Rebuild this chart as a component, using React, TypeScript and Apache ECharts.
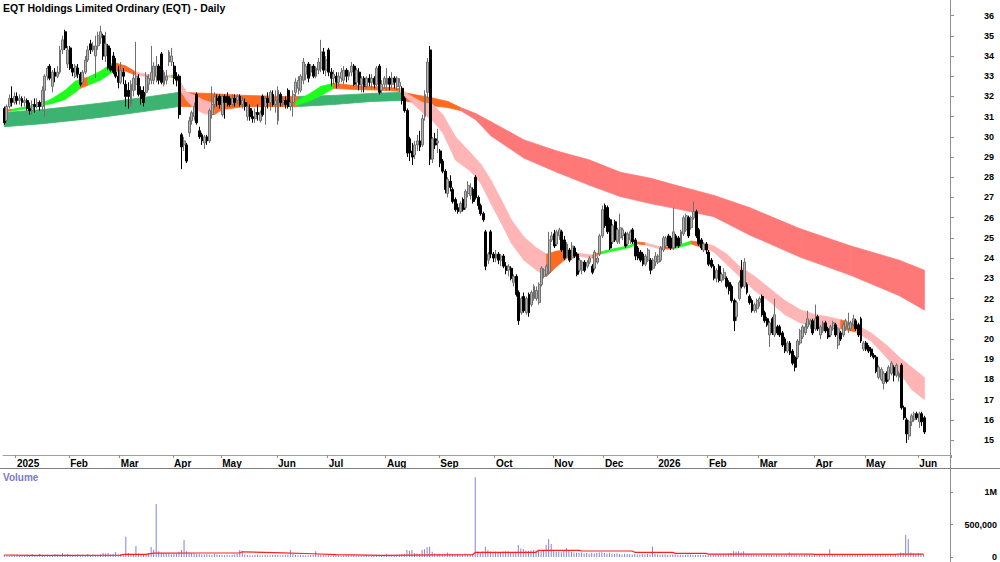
import React, { useEffect, useRef } from "react";
import * as echarts from "echarts";

const TITLE = "EQT Holdings Limited Ordinary (EQT) - Daily";
const FONT = '"Liberation Sans", Arial, Helvetica, sans-serif';

// ---------- calendar (ASX trading days) ----------
const FIRST_DAY = "2024-12-23";
const LAST_DAY = "2026-06-03";
const HOLIDAYS = [
  "2024-12-25", "2024-12-26", "2025-01-01", "2025-01-27", "2025-04-18", "2025-04-21",
  "2025-04-25", "2025-06-09", "2025-12-25", "2025-12-26", "2026-01-01", "2026-01-26",
  "2026-04-03", "2026-04-06",
];
const EMPTY_SLOTS = 10;
const MONTHS = ["Jan", "Feb", "Mar", "Apr", "May", "Jun", "Jul", "Aug", "Sep", "Oct", "Nov", "Dec"];

// ---------- tick labels ----------
const PRICE_TICKS = [15, 16, 17, 18, 19, 20, 21, 22, 23, 24, 25, 26, 27, 28, 29, 30, 31, 32, 33, 34, 35, 36];
const VOLUME_TICKS = [0, 500, 1000]; // thousands

// ---------- daily prices [open, close, low, high] ----------
const dec2024 = [
  [31.4, 30.7, 30.6, 31.5], [30.8, 31.5, 30.7, 31.6], [31.5, 31.9, 31.4, 32.1], [31.9, 31.7, 31.5, 32.5], [31.7, 32.0, 31.6, 32.2],
];
const jan2025 = [
  [32.0, 31.8, 31.6, 32.2], [31.8, 31.9, 31.6, 32.1], [31.9, 31.7, 31.5, 32.0], [31.7, 31.8, 31.5, 32.0], [31.8, 31.4, 31.3, 31.9],
  [31.4, 31.3, 31.1, 31.7], [31.3, 31.6, 31.1, 31.8], [31.6, 31.5, 31.2, 31.9], [31.5, 31.7, 31.4, 31.9], [31.7, 31.5, 31.3, 31.8],
  [31.5, 32.3, 31.3, 32.5], [32.3, 33.0, 31.0, 33.1], [33.0, 33.4, 32.8, 33.5], [33.5, 32.9, 32.8, 33.6], [32.5, 33.2, 32.2, 33.3],
  [33.2, 33.0, 32.7, 33.4], [33.0, 33.2, 32.9, 33.5], [33.2, 34.3, 33.1, 34.5], [34.3, 34.8, 34.1, 35.0], [35.2, 34.4, 34.3, 35.3],
  [33.6, 34.3, 33.4, 34.5],
];
const feb2025 = [
  [34.4, 33.4, 33.3, 34.5], [33.4, 33.2, 33.0, 33.6], [33.0, 33.5, 32.9, 33.6], [33.4, 33.1, 32.9, 33.6], [33.1, 32.6, 32.5, 33.2],
  [32.7, 33.2, 32.6, 33.3], [33.2, 33.8, 33.1, 34.0], [33.8, 34.3, 33.7, 34.5], [34.6, 34.3, 34.1, 34.8], [34.3, 34.5, 34.2, 34.7],
  [34.0, 34.5, 32.9, 35.0], [34.5, 35.0, 34.3, 35.2], [34.9, 35.2, 34.6, 35.5], [35.0, 34.0, 33.8, 35.1], [34.0, 34.6, 33.7, 35.2],
  [34.5, 33.4, 33.3, 34.6], [33.5, 33.3, 33.2, 34.4], [34.0, 33.2, 33.1, 34.2], [33.2, 33.0, 32.9, 33.9], [33.0, 32.7, 32.4, 33.5],
];
const mar2025 = [
  [32.7, 33.3, 32.6, 33.7], [33.2, 33.0, 32.6, 33.4], [32.6, 32.0, 31.5, 32.8], [32.3, 32.0, 31.4, 32.7], [31.6, 32.6, 31.5, 32.8],
  [32.3, 32.9, 32.0, 33.2], [32.6, 33.0, 32.3, 34.7], [32.9, 32.1, 32.0, 33.1], [32.3, 31.9, 31.6, 32.5], [32.2, 31.7, 31.5, 32.5],
  [32.2, 33.0, 32.0, 33.2], [32.6, 32.9, 32.3, 33.1], [32.8, 33.2, 32.6, 34.5], [32.8, 33.5, 32.6, 33.7], [33.0, 33.5, 32.7, 34.0],
  [33.5, 32.8, 32.6, 33.6], [34.1, 32.7, 32.6, 34.2], [32.6, 33.2, 32.5, 33.3], [32.8, 33.0, 32.6, 33.3], [33.7, 34.2, 33.5, 34.3],
  [33.7, 34.0, 33.5, 34.4],
];
const apr2025 = [
  [33.5, 32.9, 32.6, 33.7], [33.0, 32.8, 32.5, 33.2], [33.0, 31.1, 30.9, 33.1], [30.1, 29.5, 28.4, 30.2], [29.6, 29.8, 29.3, 30.0],
  [29.6, 28.8, 28.7, 29.7], [30.2, 30.8, 30.0, 31.0], [30.8, 31.2, 30.6, 31.3], [31.0, 31.5, 30.8, 31.7], [32.1, 30.7, 30.6, 32.2],
  [30.3, 30.0, 29.9, 30.5], [30.1, 29.8, 29.6, 30.2], [29.7, 30.0, 29.4, 30.1], [30.0, 29.8, 29.6, 30.1], [29.8, 31.3, 29.7, 31.4],
  [31.1, 31.6, 30.9, 32.5], [31.6, 32.0, 31.4, 32.2], [31.9, 31.8, 31.5, 32.1], [32.0, 31.6, 31.4, 32.1],
];
const may2025 = [
  [31.1, 32.0, 31.0, 32.1], [32.0, 31.7, 30.9, 32.1], [32.0, 31.7, 31.5, 32.2], [31.9, 31.6, 31.5, 32.0], [31.6, 31.9, 31.5, 32.1],
  [31.9, 31.7, 31.5, 32.1], [31.8, 32.0, 31.6, 32.1], [32.0, 31.6, 31.5, 32.1], [31.6, 31.8, 31.4, 32.0], [31.7, 31.5, 31.3, 31.9],
  [31.0, 31.5, 30.8, 31.7], [31.4, 31.0, 30.8, 31.6], [31.0, 30.9, 30.7, 31.3], [30.9, 31.2, 30.7, 31.4], [31.2, 31.1, 30.8, 31.6],
  [30.8, 31.2, 30.7, 31.3], [32.0, 31.1, 31.0, 32.1], [31.5, 31.9, 30.6, 32.0], [31.9, 31.7, 31.4, 32.2], [31.7, 32.2, 31.3, 32.3],
  [32.1, 31.6, 31.5, 32.3], [31.6, 31.8, 31.2, 32.3],
];
const jun2025 = [
  [30.8, 32.3, 30.6, 32.5], [32.1, 31.7, 31.5, 32.2], [31.7, 31.8, 31.5, 32.0], [31.8, 31.6, 31.4, 32.0], [32.3, 31.5, 31.4, 32.4],
  [31.5, 31.7, 31.3, 31.8], [31.7, 32.1, 31.0, 32.3], [32.2, 32.7, 32.0, 32.9], [32.4, 32.8, 32.1, 33.0], [32.3, 33.0, 32.2, 33.1],
  [32.8, 33.7, 32.6, 33.9], [33.1, 33.5, 32.8, 33.6], [33.6, 32.9, 32.7, 33.7], [33.2, 33.5, 33.0, 33.6], [33.5, 33.0, 32.9, 33.6],
  [33.0, 33.4, 32.9, 33.5], [33.3, 33.7, 33.1, 33.9], [33.4, 34.2, 33.2, 34.8], [34.2, 33.3, 33.1, 34.4], [33.3, 33.8, 33.0, 34.0],
];
const jul2025 = [
  [34.3, 33.2, 33.0, 34.4], [33.2, 32.9, 32.5, 33.4], [32.9, 33.1, 32.6, 33.3], [33.0, 32.7, 32.4, 33.2], [32.7, 33.0, 32.5, 33.2],
  [32.9, 33.2, 32.7, 33.4], [32.8, 33.3, 32.6, 33.5], [33.3, 33.0, 32.7, 33.4], [33.0, 33.2, 32.8, 33.3], [33.2, 33.5, 33.0, 33.7],
  [33.5, 32.6, 32.5, 33.6], [32.7, 33.3, 32.5, 33.4], [33.2, 32.6, 32.3, 33.4], [32.6, 32.9, 32.2, 33.0], [32.9, 32.5, 32.2, 33.0],
  [32.5, 32.9, 32.4, 33.0], [32.9, 32.7, 32.5, 33.1], [32.7, 32.9, 32.4, 33.1], [32.9, 32.6, 32.4, 33.0], [32.6, 33.4, 32.5, 33.5],
  [33.5, 32.2, 32.1, 33.6], [32.3, 32.6, 32.1, 32.8], [32.6, 32.9, 32.4, 33.0],
];
const aug2025 = [
  [32.6, 32.9, 32.3, 33.4], [32.9, 32.6, 32.3, 33.0], [32.6, 32.9, 32.4, 33.2], [32.9, 32.7, 32.4, 33.0], [32.5, 32.9, 32.3, 33.0],
  [32.5, 32.7, 32.2, 32.9], [32.4, 31.8, 31.6, 32.5], [31.9, 31.3, 31.2, 32.0], [31.3, 29.2, 29.0, 31.4], [29.9, 29.2, 28.8, 30.0],
  [29.3, 29.0, 28.6, 29.7], [29.1, 29.6, 28.9, 29.8], [29.6, 29.8, 29.3, 30.1], [29.8, 29.5, 29.3, 30.3], [29.6, 30.9, 29.5, 31.1],
  [31.0, 32.1, 30.8, 32.3], [32.2, 33.7, 31.9, 33.9], [34.3, 28.9, 28.6, 34.5], [28.9, 29.9, 28.7, 30.0], [29.9, 29.6, 29.4, 30.2],
  [29.7, 29.8, 29.2, 30.4],
];
const sep2025 = [
  [29.3, 28.7, 28.5, 29.4], [28.8, 28.3, 28.2, 28.9], [28.3, 27.4, 27.2, 28.4], [27.2, 27.9, 27.0, 28.0], [27.8, 27.5, 27.3, 28.1],
  [27.4, 26.8, 26.7, 27.5], [26.9, 26.4, 26.3, 27.0], [26.5, 26.3, 26.2, 26.7], [26.3, 26.7, 26.2, 26.8], [26.9, 26.4, 26.3, 27.0],
  [26.5, 27.3, 26.4, 27.4], [27.2, 27.6, 27.0, 27.8], [27.1, 27.5, 26.9, 27.7], [27.4, 26.8, 26.7, 27.5], [28.0, 27.0, 26.9, 28.1],
  [27.0, 26.6, 26.4, 27.1], [26.6, 26.2, 26.1, 26.7], [26.2, 25.9, 25.8, 26.3], [25.3, 23.6, 23.4, 25.4], [23.9, 24.2, 23.7, 24.3],
  [25.3, 24.2, 24.0, 25.4], [24.2, 24.0, 23.8, 24.3],
];
const oct2025 = [
  [24.0, 24.2, 23.8, 24.4], [24.2, 23.9, 23.7, 24.3], [23.9, 24.1, 23.6, 24.2], [24.1, 23.6, 23.5, 24.2], [23.6, 23.4, 23.2, 23.8],
  [23.4, 23.6, 23.1, 23.7], [23.5, 23.0, 22.9, 23.6], [22.8, 23.1, 22.6, 23.2], [23.1, 22.2, 22.1, 23.2], [22.3, 20.9, 20.7, 22.4],
  [21.3, 22.0, 21.2, 22.1], [22.1, 21.4, 21.3, 22.3], [21.3, 22.0, 21.2, 22.1], [22.2, 21.3, 21.1, 22.3], [21.7, 22.3, 21.6, 22.4],
  [22.0, 22.6, 21.9, 22.7], [22.0, 22.4, 21.9, 22.6], [21.8, 22.7, 21.7, 22.8], [22.7, 23.5, 22.6, 23.6], [23.1, 23.4, 23.0, 23.5],
  [23.2, 23.6, 23.1, 23.7], [23.3, 24.9, 23.2, 25.3], [24.9, 25.1, 24.8, 25.3],
];
const nov2025 = [
  [25.2, 24.6, 24.5, 25.4], [24.7, 25.3, 24.6, 25.4], [25.1, 25.4, 24.9, 25.5], [25.3, 24.4, 24.3, 25.4], [24.9, 24.0, 23.9, 25.1],
  [24.1, 24.7, 24.0, 24.8], [24.4, 23.9, 23.8, 24.5], [24.0, 24.6, 23.9, 24.8], [24.5, 24.1, 24.0, 24.6], [24.2, 23.2, 23.1, 24.3],
  [23.4, 23.9, 23.3, 24.0], [23.4, 23.8, 23.2, 23.9], [23.8, 23.4, 23.3, 23.9], [23.6, 23.8, 23.5, 23.9], [23.8, 24.0, 23.7, 24.1],
  [23.6, 23.3, 23.2, 23.7], [23.5, 24.3, 23.4, 24.4], [23.8, 24.0, 23.7, 24.1], [24.2, 25.1, 24.1, 25.2], [25.1, 26.4, 25.0, 26.6],
];
const dec2025 = [
  [26.6, 25.6, 25.5, 26.7], [26.5, 25.3, 25.2, 26.6], [25.9, 24.5, 24.4, 26.0], [24.8, 25.6, 24.7, 25.7], [25.8, 24.9, 24.8, 25.9],
  [24.8, 25.4, 24.7, 25.5], [25.0, 25.5, 24.7, 26.2], [25.1, 25.4, 24.9, 25.5], [25.2, 24.6, 24.5, 25.3], [24.7, 25.2, 24.6, 25.3],
  [24.9, 25.3, 24.7, 25.4], [25.4, 24.8, 24.7, 25.5], [24.9, 24.1, 23.9, 25.0], [24.5, 24.0, 23.9, 24.6], [24.3, 23.9, 23.8, 24.4],
  [24.2, 23.7, 23.6, 24.3], [23.7, 24.1, 23.6, 24.2], [23.9, 24.4, 23.8, 24.5], [23.9, 23.4, 23.2, 24.0], [23.5, 23.9, 23.4, 24.0],
  [23.8, 24.1, 23.6, 24.3],
];
const jan2026 = [
  [23.8, 24.1, 23.7, 24.2], [23.9, 24.5, 23.8, 24.6], [24.4, 25.0, 24.3, 25.1], [24.6, 25.0, 24.5, 25.1], [25.1, 24.6, 24.5, 25.2],
  [25.0, 24.5, 24.4, 25.1], [24.5, 25.3, 24.4, 26.5], [25.1, 24.6, 24.5, 25.2], [25.0, 24.6, 24.5, 25.1], [24.7, 25.3, 24.6, 25.4],
  [25.2, 26.0, 25.1, 26.1], [25.4, 26.1, 25.3, 26.2], [26.0, 25.1, 25.0, 26.1], [25.5, 26.0, 25.4, 26.1], [26.0, 26.3, 25.9, 26.8],
  [26.3, 25.1, 25.0, 26.4], [25.4, 24.7, 24.6, 25.5], [24.9, 24.5, 24.4, 25.0], [24.4, 24.7, 24.3, 24.8], [24.7, 24.4, 24.2, 24.8],
];
const feb2026 = [
  [24.3, 23.7, 23.6, 24.4], [23.9, 23.6, 23.5, 24.0], [23.6, 23.0, 22.9, 23.7], [23.0, 23.4, 22.8, 23.5], [23.6, 22.9, 22.8, 23.7],
  [22.9, 23.2, 22.8, 23.3], [23.0, 23.3, 22.9, 23.5], [23.0, 22.6, 22.5, 23.1], [22.8, 22.4, 22.2, 22.9], [22.6, 21.9, 21.8, 22.7],
  [21.9, 20.9, 20.4, 22.0], [21.1, 21.8, 20.9, 21.9], [22.0, 22.8, 21.9, 22.9], [23.4, 22.6, 22.5, 23.9], [22.6, 23.8, 22.5, 24.0],
  [22.7, 22.3, 22.2, 22.8], [22.1, 21.8, 21.7, 22.2], [21.9, 21.4, 21.3, 22.0], [21.4, 21.7, 21.3, 21.8], [21.5, 21.9, 21.3, 22.0],
];
const mar2026 = [
  [21.8, 22.0, 21.6, 22.1], [22.1, 21.2, 21.1, 22.2], [21.3, 20.9, 20.8, 21.4], [21.0, 20.7, 20.6, 21.1], [20.2, 20.8, 19.6, 20.9],
  [21.0, 20.3, 20.2, 21.1], [20.2, 21.2, 20.1, 22.0], [20.6, 20.3, 20.2, 20.7], [20.6, 20.2, 20.1, 20.7], [20.3, 19.7, 19.6, 20.4],
  [20.0, 19.4, 19.3, 20.1], [19.4, 19.8, 19.3, 19.9], [19.8, 19.3, 19.2, 19.9], [19.4, 18.8, 18.7, 19.5], [19.1, 18.6, 18.4, 19.2],
  [19.1, 19.9, 19.0, 20.0], [19.8, 20.4, 19.7, 20.5], [20.1, 20.6, 20.0, 20.7], [20.3, 20.6, 20.2, 20.8], [20.6, 21.0, 20.5, 21.4],
  [20.7, 20.9, 20.5, 21.0], [20.9, 20.3, 20.2, 21.0],
];
const apr2026 = [
  [20.5, 21.0, 20.4, 21.7], [21.1, 20.5, 20.4, 21.2], [20.2, 20.6, 20.0, 20.7], [20.4, 20.8, 20.3, 20.9], [20.8, 20.4, 20.3, 20.9],
  [20.5, 20.1, 20.0, 20.6], [20.2, 20.6, 20.1, 20.7], [20.5, 20.8, 20.4, 20.9], [20.7, 20.2, 20.1, 20.8], [19.7, 20.5, 19.5, 20.6],
  [20.3, 20.0, 19.9, 20.4], [20.2, 20.7, 20.1, 20.8], [20.6, 20.9, 20.4, 21.0], [20.5, 20.7, 20.3, 21.3], [20.5, 20.8, 20.4, 20.9],
  [20.7, 21.0, 20.6, 21.2], [20.9, 20.5, 20.4, 21.0], [20.7, 20.2, 20.1, 20.8], [21.0, 19.9, 19.8, 21.1], [19.5, 19.8, 19.4, 19.9],
];
const may2026 = [
  [19.8, 19.5, 19.4, 19.9], [19.6, 19.4, 19.3, 19.7], [19.5, 19.2, 19.1, 19.6], [19.2, 19.1, 19.0, 19.3], [19.1, 18.4, 18.3, 19.2],
  [18.1, 18.6, 18.0, 18.7], [18.0, 18.5, 17.9, 18.6], [17.8, 18.3, 17.5, 18.4], [18.3, 17.9, 17.8, 18.4], [18.0, 18.6, 17.9, 18.7],
  [18.3, 18.8, 18.2, 18.9], [18.6, 18.2, 17.9, 18.7], [18.2, 18.7, 18.1, 18.8], [18.1, 18.3, 17.9, 18.4], [18.7, 16.6, 16.5, 18.8],
  [16.6, 16.1, 16.0, 16.7], [16.0, 15.3, 14.85, 16.1], [15.2, 15.9, 15.0, 16.0], [15.9, 16.2, 15.7, 16.3], [16.0, 16.3, 15.9, 16.4],
  [16.3, 16.1, 16.0, 16.4],
];
const jun2026 = [
  [15.9, 16.3, 15.6, 16.4], [16.3, 15.9, 15.7, 16.4], [16.1, 15.4, 15.3, 16.2],
];

// ---------- daily volume (thousands of shares) ----------
const volDec2024 = [30, 25, 18, 35, 28];
const volJan2025 = [40, 22, 30, 25, 35, 28, 45, 20, 30, 50, 32, 28, 36, 25, 30, 42, 38, 30, 60, 40, 48];
const volFeb2025 = [35, 30, 28, 40, 25, 33, 30, 45, 28, 36, 32, 30, 40, 60, 55, 62, 38, 45, 77, 40];
const volMar2025 = [45, 38, 313, 60, 50, 42, 170, 55, 48, 40, 45, 60, 154, 113, 818, 90, 60, 55, 45, 50, 40];
const volApr2025 = [48, 55, 80, 108, 262, 90, 70, 60, 55, 45, 50, 40, 38, 42, 35, 30, 45, 38, 32];
const volMay2025 = [30, 28, 35, 25, 30, 40, 45, 108, 95, 40, 30, 28, 25, 30, 35, 28, 22, 30, 25, 28, 32, 30];
const volJun2025 = [30, 25, 28, 35, 40, 108, 45, 30, 28, 35, 30, 25, 28, 30, 33, 90, 35, 30, 28, 25];
const volJul2025 = [28, 25, 22, 30, 26, 20, 24, 30, 22, 25, 28, 20, 24, 22, 26, 30, 24, 20, 22, 25, 28, 24, 30];
const volAug2025 = [50, 30, 28, 25, 32, 35, 40, 45, 108, 95, 108, 60, 55, 48, 108, 120, 150, 160, 80, 55, 45];
const volSep2025 = [50, 45, 40, 70, 55, 48, 45, 50, 42, 40, 55, 48, 45, 52, 1230, 80, 60, 90, 160, 105, 85, 70];
const volOct2025 = [80, 70, 75, 85, 90, 85, 70, 75, 80, 185, 130, 125, 100, 95, 100, 110, 100, 95, 90, 100, 185, 277, 200];
const volNov2025 = [90, 80, 85, 75, 95, 140, 100, 80, 70, 65, 60, 70, 55, 60, 50, 65, 55, 60, 70, 75];
const volDec2025 = [60, 55, 65, 50, 45, 55, 48, 40, 50, 45, 42, 38, 45, 40, 35, 42, 38, 45, 40, 160, 45];
const volJan2026 = [40, 35, 38, 42, 30, 35, 40, 38, 32, 36, 30, 34, 40, 38, 35, 30, 32, 36, 30, 34];
const volFeb2026 = [35, 32, 40, 38, 45, 36, 42, 38, 50, 60, 90, 85, 90, 70, 90, 50, 45, 40, 38, 35];
const volMar2026 = [35, 30, 32, 38, 40, 35, 30, 42, 38, 36, 40, 35, 70, 45, 38, 30, 28, 35, 32, 30, 34, 28];
const volApr2026 = [30, 28, 35, 32, 30, 38, 120, 40, 35, 30, 28, 32, 30, 26, 30, 28, 32, 35, 30, 38];
const volMay2026 = [30, 28, 32, 30, 35, 38, 32, 30, 28, 35, 30, 32, 38, 45, 70, 60, 340, 277, 70, 55, 45];
const volJun2026 = [60, 50, 45];

// volume average line (trading-day index, thousands)
const VOL_AVG_AT = [0, 11, 25, 46, 47, 56, 59, 64, 75, 93, 94, 110, 122, 131, 150, 159, 185, 186, 210, 211, 227, 228, 248, 249, 264, 265, 277, 278, 319, 320, 352, 353, 363];
const VOL_AVG = [31, 26, 26, 28, 40, 42, 60, 60, 62, 62, 80, 65, 50, 36, 26, 30, 36, 70, 72, 103, 103, 93, 93, 72, 72, 56, 56, 46, 46, 41, 41, 46, 46];

// ---------- short-term ribbon (trading-day index, upper, lower, tone of following stretch) ----------
const SHORT_AT = [0, 3, 10, 15, 19, 24, 28, 30, 33, 38, 42, 44, 48, 52, 58, 66, 68, 70, 72, 75, 79, 83, 86, 95, 105, 115, 120, 125, 130, 137, 150, 156, 160, 165, 169, 173, 178, 184, 188, 192, 196, 200, 205, 210, 214, 218, 222, 226, 232, 235, 240, 246, 250, 253, 259, 264, 271, 276, 280, 285, 290, 296, 302, 308, 314, 320, 325, 330, 336, 342, 348, 354, 358, 363];
const SHORT_UPPER = [31.32, 31.36, 31.52, 31.66, 31.9, 32.3, 32.75, 32.85, 32.95, 33.25, 33.6, 33.65, 33.5, 33.2, 33.05, 33.05, 33.05, 32.6, 32.2, 32.05, 31.8, 31.64, 31.75, 31.8, 31.8, 31.75, 32.1, 32.5, 32.65, 32.55, 32.45, 32.4, 32.05, 31.7, 31.6, 31.1, 30.0, 29.2, 28.65, 27.85, 26.9, 25.9, 25.05, 24.5, 24.2, 24.35, 24.4, 24.25, 24.15, 24.3, 24.45, 24.6, 24.8, 24.75, 24.55, 24.55, 24.85, 24.75, 24.6, 24.2, 23.6, 23.1, 22.5, 21.9, 21.45, 21.2, 21.1, 20.95, 20.7, 20.3, 19.7, 19.0, 18.6, 18.1];
const SHORT_LOWER = [31.26, 31.28, 31.42, 31.55, 31.65, 31.85, 32.2, 32.4, 32.55, 32.8, 33.15, 33.25, 33.25, 33.05, 32.95, 32.95, 32.9, 32.2, 31.8, 31.4, 31.14, 31.1, 31.35, 31.5, 31.55, 31.55, 31.75, 32.05, 32.4, 32.35, 32.3, 32.25, 31.8, 31.2, 30.8, 30.2, 28.85, 28.3, 27.7, 26.7, 25.75, 24.75, 23.9, 23.4, 23.1, 23.6, 24.0, 24.1, 24.0, 24.2, 24.35, 24.5, 24.7, 24.65, 24.45, 24.45, 24.7, 24.5, 24.3, 23.7, 23.1, 22.4, 21.85, 21.2, 20.8, 20.65, 20.6, 20.5, 20.35, 19.9, 19.1, 18.2, 17.5, 17.0];
const SHORT_TONE = "ogggggg" + "o" + "ggg" + "oo" + "pp" + "g" + "ppppp" + "oooo" + "ggg" + "ooo" + "ppppppppppppp" + "ooo" + "p" + "o" + "ggg" + "o" + "p" + "o" + "g" + "o" + "pppppppppp" + "o" + "ppppp";

// ---------- long-term ribbon ----------
const LONG_AT = [0, 15, 30, 40, 55, 69, 80, 95, 110, 116, 130, 145, 157, 168, 175, 180, 186, 192, 205, 218, 231, 243, 255, 265, 280, 294, 314, 334, 353, 363];
const LONG_UPPER = [31.2, 31.35, 31.55, 31.7, 31.95, 32.2, 32.15, 32.05, 32.0, 32.0, 32.05, 32.15, 32.2, 31.95, 31.75, 31.45, 31.15, 30.75, 29.85, 29.3, 28.85, 28.25, 27.95, 27.6, 27.1, 26.5, 25.45, 24.6, 23.9, 23.4];
const LONG_LOWER = [30.5, 30.65, 30.85, 31.0, 31.25, 31.5, 31.5, 31.5, 31.5, 31.5, 31.6, 31.75, 31.8, 31.55, 31.45, 31.3, 30.85, 30.05, 28.95, 28.25, 27.6, 27.05, 26.7, 26.45, 26.05, 25.15, 24.05, 23.15, 22.15, 21.43];
const LONG_TONE = "GGGGGooooGGGooorrrrrrrrrrrrrr";

const TONE_KEYS = ["g", "G", "o", "p", "r"];
const TONE_COLORS = ["#1cff1c", "#3cb371", "#ff6a1f", "#ffb5b5", "#ff7878"];

// ---------- derived structures ----------
function tradingDays(): string[] {
  const out: string[] = [];
  const hol = new Set(HOLIDAYS);
  const d = new Date(FIRST_DAY + "T00:00:00Z");
  const end = new Date(LAST_DAY + "T00:00:00Z");
  while (d.getTime() <= end.getTime()) {
    const wd = d.getUTCDay();
    const s = d.toISOString().slice(0, 10);
    if (wd !== 0 && wd !== 6 && !hol.has(s)) out.push(s);
    d.setUTCDate(d.getUTCDate() + 1);
  }
  return out;
}

function ribbonItems(at: number[], up: number[], lo: number[], tone: string) {
  const items: number[][] = [];
  for (let k = 0; k < at.length - 1; k++) {
    items.push([at[k], up[k], lo[k], at[k + 1], up[k + 1], lo[k + 1], TONE_KEYS.indexOf(tone[k])]);
  }
  return items;
}

const ribbonRender = (_params: any, api: any) => {
  const p0 = api.coord([api.value(0), api.value(1)]);
  const p1 = api.coord([api.value(3), api.value(4)]);
  const p2 = api.coord([api.value(3), api.value(5)]);
  const p3 = api.coord([api.value(0), api.value(2)]);
  const c = TONE_COLORS[api.value(6)];
  return {
    type: "polygon",
    shape: { points: [p0, p1, p2, p3] },
    style: { fill: c, stroke: c, lineWidth: 0.8 },
  };
};

function buildOption() {
  const days = tradingDays();
  const cats = [...days, ...Array.from({ length: EMPTY_SLOTS }, (_, k) => `+${k + 1}`)];
  const n = cats.length;
  const monthLabel = cats.map((d, i) => {
    if (i === 0 || i >= days.length) return "";
    const m = d.slice(5, 7);
    if (m === days[i - 1].slice(5, 7)) return "";
    const mi = Number(m) - 1;
    return mi === 0 ? d.slice(0, 4) : MONTHS[mi];
  });
  const isMonthStart = (i: number) => monthLabel[i] !== "";

  const prices = [
    ...dec2024, ...jan2025, ...feb2025, ...mar2025, ...apr2025, ...may2025, ...jun2025, ...jul2025,
    ...aug2025, ...sep2025, ...oct2025, ...nov2025, ...dec2025, ...jan2026, ...feb2026, ...mar2026,
    ...apr2026, ...may2026, ...jun2026,
  ];
  const volume = [
    ...volDec2024, ...volJan2025, ...volFeb2025, ...volMar2025, ...volApr2025, ...volMay2025, ...volJun2025,
    ...volJul2025, ...volAug2025, ...volSep2025, ...volOct2025, ...volNov2025, ...volDec2025, ...volJan2026,
    ...volFeb2026, ...volMar2026, ...volApr2026, ...volMay2026, ...volJun2026,
  ];

  const boldLabel = { fontFamily: FONT, fontWeight: "bold" as const, color: "#000" };

  return {
    animation: false,
    backgroundColor: "#ffffff",
    textStyle: { fontFamily: FONT },
    grid: [
      { left: 3, right: 49, top: 0, height: 455 },
      { left: 3, right: 49, top: 469, height: 93 },
    ],
    xAxis: [
      {
        type: "category", gridIndex: 0, data: cats, boundaryGap: true,
        axisLine: { show: true, onZero: false, lineStyle: { color: "#a0a0a0", width: 1 } },
        axisTick: { show: true, interval: (i: number) => isMonthStart(i), length: 3, lineStyle: { color: "#909090" } },
        axisLabel: {
          show: true, interval: (i: number) => isMonthStart(i), formatter: (_v: string, i: number) => monthLabel[i],
          align: "left", margin: 3, fontSize: 10, ...boldLabel,
        },
        splitLine: { show: false },
      },
      {
        type: "category", gridIndex: 1, data: cats, boundaryGap: true,
        axisLine: { show: false, onZero: false }, axisTick: { show: false }, axisLabel: { show: false }, splitLine: { show: false },
      },
      { type: "value", gridIndex: 0, min: -0.5, max: n - 0.5, show: false, axisLine: { onZero: false } },
      { type: "value", gridIndex: 1, min: -0.5, max: n - 0.5, show: false, axisLine: { onZero: false } },
    ],
    yAxis: [
      {
        type: "value", gridIndex: 0, position: "right", min: 14.26, max: 36.77,
        axisLine: { show: false, onZero: false }, splitLine: { show: false },
        axisTick: { show: true, customValues: PRICE_TICKS, length: 3, lineStyle: { color: "#909090" } },
        axisLabel: { show: true, customValues: PRICE_TICKS, align: "right", margin: 43, fontSize: 9, ...boldLabel },
      },
      {
        type: "value", gridIndex: 1, position: "right", min: -77, max: 1358,
        axisLine: { show: false, onZero: false }, splitLine: { show: false },
        axisTick: { show: true, customValues: VOLUME_TICKS, length: 3, lineStyle: { color: "#909090" } },
        axisLabel: {
          show: true, customValues: VOLUME_TICKS, align: "right", margin: 47, fontSize: 9, ...boldLabel,
          formatter: (v: number) => (v >= 1000 ? v / 1000 + "M" : (v * 1000).toLocaleString("en-US")),
        },
      },
    ],
    graphic: [
      { type: "text", left: 3, top: 2, style: { text: TITLE, font: `bold 10.5px ${FONT}`, fill: "#000" } },
      { type: "text", left: 3, top: 472, style: { text: "Volume", font: `bold 10px ${FONT}`, fill: "#7b7bc8" } },
      { type: "line", shape: { x1: 950.5, y1: 0, x2: 950.5, y2: 562 }, style: { stroke: "#909090", lineWidth: 1 }, z: 10 },
      { type: "line", shape: { x1: 0, y1: 468.5, x2: 1000, y2: 468.5 }, style: { stroke: "#808080", lineWidth: 1 }, z: 10 },
    ],
    series: [
      {
        name: "Long-term ribbon", type: "custom", xAxisIndex: 2, yAxisIndex: 0, clip: true, z: 1,
        renderItem: ribbonRender, data: ribbonItems(LONG_AT, LONG_UPPER, LONG_LOWER, LONG_TONE),
      },
      {
        name: "Short-term ribbon", type: "custom", xAxisIndex: 2, yAxisIndex: 0, clip: true, z: 2,
        renderItem: ribbonRender, data: ribbonItems(SHORT_AT, SHORT_UPPER, SHORT_LOWER, SHORT_TONE),
      },
      {
        name: "EQT", type: "candlestick", xAxisIndex: 0, yAxisIndex: 0, z: 3,
        barWidth: 2.4,
        itemStyle: { color: "#b4b4b4", color0: "#000000", borderColor: "#707070", borderColor0: "#000000", borderWidth: 1 },
        data: prices,
      },
      {
        name: "Volume", type: "bar", xAxisIndex: 1, yAxisIndex: 1, barWidth: 1,
        itemStyle: { color: "#8282d6" }, data: volume,
      },
      {
        name: "Volume average", type: "line", xAxisIndex: 3, yAxisIndex: 1, showSymbol: false, z: 5,
        lineStyle: { color: "#ff2020", width: 1.2 }, data: VOL_AVG_AT.map((i, k) => [i, VOL_AVG[k]]),
      },
    ],
  };
}

export default function App() {
  const ref = useRef<HTMLDivElement>(null);
  useEffect(() => {
    const chart = echarts.init(ref.current as HTMLDivElement, null, { renderer: "svg" });
    chart.setOption(buildOption() as any);
    return () => chart.dispose();
  }, []);
  return (
    <div
      ref={ref}
      style={{ position: "fixed", left: 0, top: 0, width: 1000, height: 562, background: "#ffffff" }}
    />
  );
}
